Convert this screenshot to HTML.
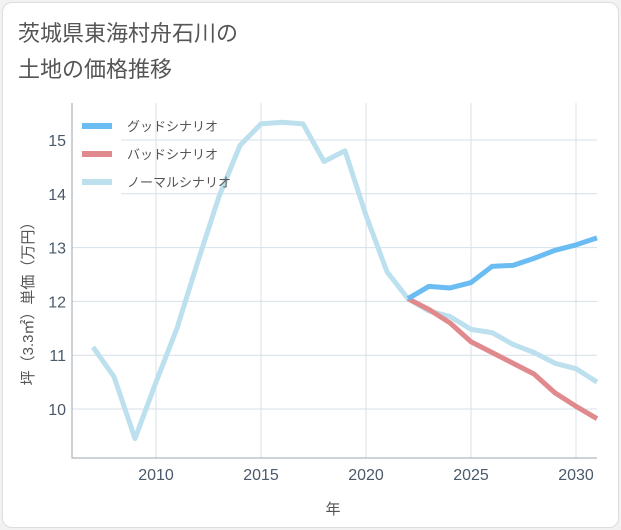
<!DOCTYPE html>
<html><head><meta charset="utf-8"><style>
body{margin:0;background:#f2f2f2;font-family:"Liberation Sans","Noto Sans CJK JP",sans-serif;}
#card{position:absolute;left:2px;top:2px;width:615px;height:524px;background:#fff;border:1px solid #ddd;border-radius:10px;}
</style></head><body>
<div id="card"></div>
<svg width="621" height="530" style="position:absolute;left:0;top:0">
<text x="18" y="41" font-size="22" fill="#555">茨城県東海村舟石川の</text>
<text x="18" y="77" font-size="22" fill="#555">土地の価格推移</text>
<g id="grid"></g>
<rect x="73" y="108" width="48" height="90" fill="#fff"/>
<g id="series"></g><g id="axes"></g>
<g>
<line x1="82" y1="126" x2="112" y2="126" stroke="#6bbcf3" stroke-width="6"/>
<text x="127" y="131" font-size="13" fill="#555">グッドシナリオ</text>
<line x1="82" y1="154" x2="112" y2="154" stroke="#e08a8e" stroke-width="6"/>
<text x="127" y="159" font-size="13" fill="#555">バッドシナリオ</text>
<line x1="82" y1="182" x2="112" y2="182" stroke="#bde0ee" stroke-width="6"/>
<text x="127" y="187" font-size="13" fill="#555">ノーマルシナリオ</text>
</g>
<text x="333" y="514" font-size="15" fill="#555" text-anchor="middle">年</text>
<text transform="translate(33,300) rotate(-90)" font-size="15" fill="#555" text-anchor="middle">坪（3.3㎡）単価（万円）</text>
</svg>
<script>
const normalYears=[2007,2008,2009,2010,2011,2012,2013,2014,2015,2016,2017,2018,2019,2020,2021,2022,2023,2024,2025,2026,2027,2028,2029,2030,2031];
const normalValues=[11.15,10.6,9.45,10.5,11.5,12.75,13.95,14.9,15.3,15.33,15.3,14.6,14.8,13.6,12.55,12.05,11.82,11.72,11.48,11.42,11.2,11.05,10.85,10.75,10.5];
const forecastYears=[2022,2023,2024,2025,2026,2027,2028,2029,2030,2031];
const goodValues=[12.05,12.28,12.25,12.35,12.65,12.67,12.8,12.95,13.05,13.18];
const badValues=[12.05,11.85,11.6,11.25,11.05,10.85,10.65,10.3,10.05,9.82];
const xTicks=[2010,2015,2020,2025,2030];
const yTicks=[10,11,12,13,14,15];
const L=72,R=597,T=103,B=458;
const X=y=>156+(y-2010)*21;
const Y=v=>409-(v-10)*53.8;
const NS="http://www.w3.org/2000/svg";
function mk(parent,tag,attrs){const e=document.createElementNS(NS,tag);for(const k in attrs)e.setAttribute(k,attrs[k]);document.getElementById(parent).appendChild(e);return e;}
xTicks.forEach(t=>{
 const g=mk('grid','line',{x1:X(t),x2:X(t),y1:T,y2:B,stroke:'#d5e0e8'});
 
 
 const tx=mk('axes','text',{x:X(t),y:B+22,'font-size':16,fill:'#4a5a6a','text-anchor':'middle'});tx.textContent=t;
 
 
});
yTicks.forEach(t=>{
 const g=mk('grid','line',{x1:L,x2:R,y1:Y(t),y2:Y(t),stroke:'#d5e0e8'});
 
 
 const tx=mk('axes','text',{x:L-6,y:Y(t)+6,'font-size':16,fill:'#4a5a6a','text-anchor':'end'});tx.textContent=t;
 
 
});
const ax=mk('axes','path',{d:`M${L},${T}V${B}H${R}`,fill:'none',stroke:'#9aa5ae'});


function line(xs,vs,color,name){
 const p=mk('series','polyline',{points:xs.map((x,i)=>X(x)+','+Y(vs[i])).join(' '),fill:'none',stroke:color,'stroke-width':5,'stroke-linejoin':'round'});
 
 
}
line(normalYears,normalValues,'#bde0ee','normal-line');
line(forecastYears,badValues,'#e08a8e','bad-line');
line(forecastYears,goodValues,'#6bbcf3','good-line');
</script>
</body></html>
